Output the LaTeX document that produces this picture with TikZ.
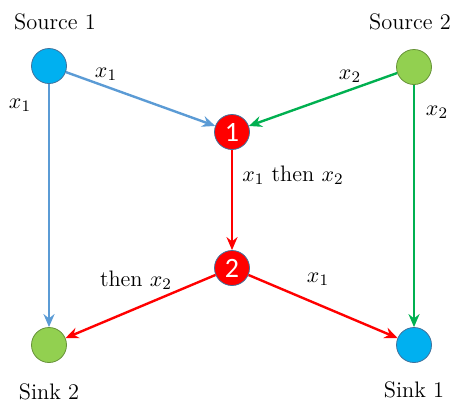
\documentclass[tikz,border=0pt]{standalone}
\usepackage{fontspec}
\newfontfamily\numfont{Carlito}
\usetikzlibrary{arrows.meta}
\definecolor{cblue}{HTML}{00B0F0}
\definecolor{cgreen}{HTML}{92D050}
\definecolor{cred}{HTML}{FF0000}
\definecolor{eblue}{HTML}{5B9BD5}
\definecolor{egreen}{HTML}{00B050}
\definecolor{bord}{HTML}{41719C}
\begin{document}
\begin{tikzpicture}[x=0.5pt,y=-0.5pt,
  font=\fontsize{11.2}{13}\selectfont,
  vert/.style={circle,minimum size=17.5pt,inner sep=0pt,line width=0.4pt},
  srcb/.style={vert,fill=cblue,draw=bord},
  srcg/.style={vert,fill=cgreen,draw=cgreen!70!black},
  mix/.style={vert,fill=cred,draw=bord,text=white,font=\numfont\fontsize{14}{14}\selectfont},
  edge/.style={line width=1.2pt,-{Stealth[length=6.5pt,width=5.5pt]}},
  lbl/.style={inner sep=0pt}]
\useasboundingbox (0,0) rectangle (455,403);
\node[srcb] (s1) at (49,66) {};
\node[srcg] (s2) at (414,67) {};
\node[mix] (n1) at (232,132) {1};
\node[mix] (n2) at (232,268) {2};
\node[srcg] (t2) at (49,345) {};
\node[srcb] (t1) at (414,345) {};
\node[lbl] (ls1) at (55,22) {Source 1};
\node[lbl] (ls2) at (410,22) {Source 2};
\node[lbl] (lt2) at (49,392) {Sink 2};
\node[lbl] (lt1) at (414,390) {Sink 1};
\draw[edge,eblue] (s1) -- (n1);
\draw[edge,eblue] (s1) -- (t2);
\draw[edge,egreen] (s2) -- (n1);
\draw[edge,egreen] (s2) -- (t1);
\draw[edge,cred] (n1) -- (n2);
\draw[edge,cred] (n2) -- (t2);
\draw[edge,cred] (n2) -- (t1);
\node[lbl] (a1) at (106,74) {$x_1$};
\node[lbl] (a2) at (20,105) {$x_1$};
\node[lbl] (a3) at (350,76) {$x_2$};
\node[lbl] (a4) at (437,112) {$x_2$};
\node[lbl] (a5) at (293,175) {$x_1$ then $x_2$};
\node[lbl] (a6) at (136,280) {then $x_2$};
\node[lbl] (a7) at (318,279) {$x_1$};
\end{tikzpicture}
\end{document}
